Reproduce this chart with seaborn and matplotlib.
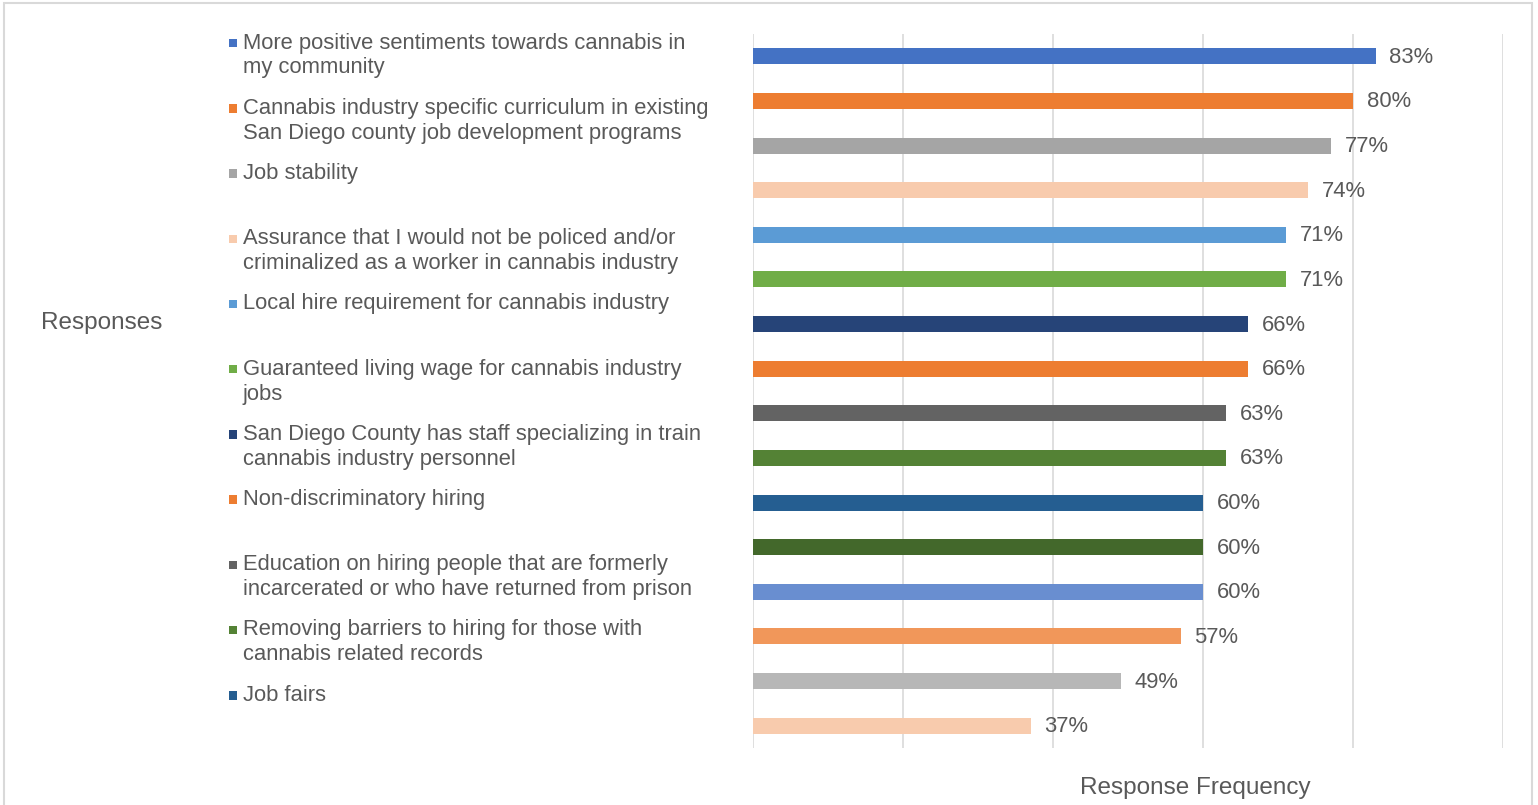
import matplotlib
matplotlib.use('Agg')
import matplotlib.pyplot as plt
from matplotlib.patches import Rectangle
import seaborn as sns
import pandas as pd

# --- data ---
labels = [
    'More positive sentiments towards cannabis in\nmy community',
    'Cannabis industry specific curriculum in existing\nSan Diego county job development programs',
    'Job stability',
    'Assurance that I would not be policed and/or\ncriminalized as a worker in cannabis industry',
    'Local hire requirement for cannabis industry',
    'Guaranteed living wage for cannabis industry\njobs',
    'San Diego County has staff specializing in train\ncannabis industry personnel',
    'Non-discriminatory hiring',
    'Education on hiring people that are formerly\nincarcerated or who have returned from prison',
    'Removing barriers to hiring for those with\ncannabis related records',
    'Job fairs',
    # legend is cut off in the reference after "Job fairs"
    'Response 12', 'Response 13', 'Response 14', 'Response 15', 'Response 16',
]
values = [83, 80, 77, 74, 71, 71, 66, 66, 63, 63, 60, 60, 60, 57, 49, 37]
colors = ['#4472C4', '#ED7D31', '#A5A5A5', '#F8CBAD', '#5B9BD5', '#70AD47',
          '#264478', '#ED7D31', '#636363', '#548235', '#255E91', '#43682B',
          '#698ED0', '#F1975A', '#B7B7B7', '#F8CBAD']
n_legend = 11  # entries visible in the reference legend

df = pd.DataFrame({'Response': labels, 'Frequency': values})

sns.set_style('white')
plt.rcParams['font.family'] = ['Liberation Sans', 'DejaVu Sans']
text_color = '#595959'

W, H = 1538, 805
fig = plt.figure(figsize=(W / 100, H / 100), dpi=100)
ax = fig.add_axes([753 / W, 1 - 748 / H, 750 / W, 714 / H])

sns.barplot(data=df, x='Frequency', y='Response', hue='Response',
            palette=colors, saturation=1, orient='h', width=0.36,
            linewidth=0, legend=False, ax=ax)

ax.set_xlim(0, 100)
ax.set_xticks([0, 20, 40, 60, 80, 100])
ax.xaxis.grid(True, color='#D9D9D9', linewidth=1.2)
ax.set_axisbelow(True)
ax.tick_params(length=0, labelbottom=False, labelleft=False)
for s in ax.spines.values():
    s.set_visible(False)
ax.set_ylabel('')
ax.set_xlabel('')

# data labels
for i, v in enumerate(values):
    ax.annotate(f'{v}%', (v, i), xytext=(14, -1), textcoords='offset pixels',
                va='center', ha='left', fontsize=15.8, color=text_color)

# legend on the left, drawn like the Excel one
for i in range(n_legend):
    yc = 43 + 65.2 * i
    fig.patches.append(Rectangle((229 / W, 1 - (yc + 4.5) / H), 8.5 / W, 8.5 / H,
                                 transform=fig.transFigure, color=colors[i], lw=0))
    for j, line in enumerate(labels[i].split('\n')):
        fig.text(243 / W, 1 - (yc + 25 * j) / H, line, ha='left', va='center',
                 fontsize=15.8, color=text_color)

# axis titles
fig.text(41 / W, 1 - 323 / H, 'Responses', ha='left', va='center',
         fontsize=17.5, color=text_color)
fig.text(1195 / W, 1 - 788 / H, 'Response Frequency', ha='center', va='center',
         fontsize=17.5, color=text_color)

# chart area border
fig.patches.append(Rectangle((4 / W, -0.02), 1528 / W, 1.02 - 3 / H,
                             transform=fig.transFigure, fill=False,
                             edgecolor='#D9D9D9', lw=1.5))

fig.savefig('out.png', dpi=100)
